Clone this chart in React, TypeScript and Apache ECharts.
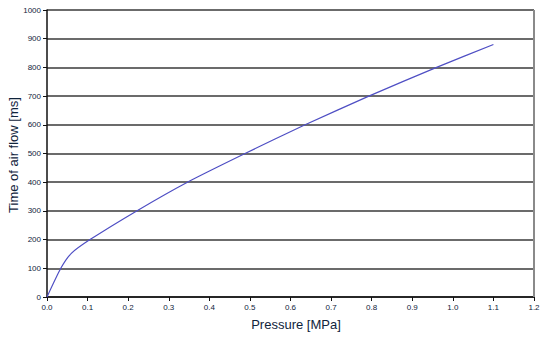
import React, { useEffect, useRef } from "react";
import * as echarts from "echarts";

const pressure = [0, 0.034, 0.06, 0.106, 0.221, 0.346, 0.488, 0.636, 0.793, 0.96, 1.1];
const timeMs = [0, 100, 152, 200, 300, 400, 500, 600, 700, 800, 880];
const xTitle = "Pressure [MPa]";
const yTitle = "Time of air flow [ms]";

const textColor = "#10243c";

export default function App() {
  const ref = useRef<HTMLDivElement>(null);
  useEffect(() => {
    if (!ref.current) return;
    const chart = echarts.init(ref.current, undefined, { renderer: "svg" });
    chart.setOption({
      animation: false,
      backgroundColor: "#ffffff",
      grid: { left: 47, right: 16, top: 10, bottom: 42, show: false },
      xAxis: {
        type: "value",
        min: 0,
        max: 1.2,
        interval: 0.1,
        axisLine: { show: true, lineStyle: { color: "#111", width: 1.5 } },
        axisTick: { show: true, inside: false, length: 4, lineStyle: { color: "#111" } },
        axisLabel: {
          color: textColor,
          fontSize: 8,
          fontFamily: "Liberation Sans, Arial, sans-serif",
          margin: 6,
          formatter: (v: number) => v.toFixed(1),
        },
        splitLine: { show: false },
      },
      yAxis: {
        type: "value",
        min: 0,
        max: 1000,
        interval: 100,
        axisLine: { show: true, lineStyle: { color: "#111", width: 1.5 } },
        axisTick: { show: true, inside: false, length: 4, lineStyle: { color: "#111" } },
        axisLabel: {
          color: textColor,
          fontSize: 8,
          fontFamily: "Liberation Sans, Arial, sans-serif",
          margin: 6,
          formatter: (v: number) => String(Math.round(v)),
        },
        splitLine: { show: true, lineStyle: { color: "#3a3a3a", width: 1.5 } },
      },
      graphic: [
        {
          type: "line",
          shape: { x1: 534, y1: 10, x2: 534, y2: 297 },
          style: { stroke: "#8a8a8a", lineWidth: 2 },
          z: 10,
        },
        {
          type: "text",
          x: 296,
          y: 324,
          style: {
            text: xTitle,
            fill: textColor,
            font: "13px 'Liberation Sans', Arial, sans-serif",
            textAlign: "center",
            textVerticalAlign: "middle",
          },
        },
        {
          type: "text",
          x: 13,
          y: 155,
          rotation: Math.PI / 2,
          style: {
            text: yTitle,
            fill: textColor,
            font: "13px 'Liberation Sans', Arial, sans-serif",
            textAlign: "center",
            textVerticalAlign: "middle",
          },
        },
      ],
      series: [
        {
          type: "line",
          data: pressure.map((p, i) => [p, timeMs[i]]),
          showSymbol: false,
          symbol: "none",
          smooth: 0.2,
          lineStyle: { color: "#4f4fc4", width: 1.2 },
          z: 5,
        },
      ],
    });
    return () => chart.dispose();
  }, []);
  return (
    <div
      ref={ref}
      style={{ position: "fixed", left: 0, top: 0, width: 550, height: 339 }}
    />
  );
}
